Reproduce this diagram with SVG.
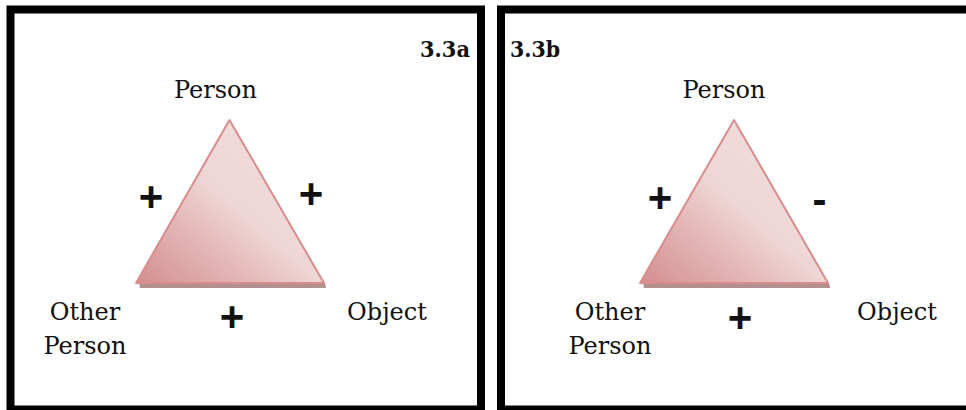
<svg xmlns="http://www.w3.org/2000/svg" width="966" height="410" viewBox="0 0 966 410">
<defs>
<linearGradient id="tri" x1="0" y1="1" x2="1" y2="0">
<stop offset="0" stop-color="#d48e8e"/>
<stop offset="0.3" stop-color="#e4b7b7"/>
<stop offset="0.5" stop-color="#efd6d6"/>
<stop offset="0.75" stop-color="#f0dada"/>
<stop offset="1" stop-color="#eacaca"/>
</linearGradient>
<style>
.frame{fill:none;stroke:#000;stroke-width:8}
.tri{fill:url(#tri);stroke:#d88c8c;stroke-width:2;stroke-linejoin:round}
.shadow{fill:#b39090}
.lbl{font-family:"DejaVu Serif","Liberation Serif",serif;font-size:24px;fill:#111;text-anchor:middle}
.tag{font-family:"DejaVu Serif","Liberation Serif",serif;font-size:23px;font-weight:bold;fill:#111}
.sign{font-family:"Liberation Sans",Arial,sans-serif;font-size:42px;font-weight:bold;fill:#111;text-anchor:middle}
</style>
</defs>
<rect width="966" height="410" fill="#fff"/>
<g id="panel-a">
<rect class="frame" x="10.5" y="9.5" width="470.5" height="400"/>
<text class="tag" x="420" y="57" textLength="50" lengthAdjust="spacingAndGlyphs">3.3a</text>
<g id="triangle-a">
<polygon class="shadow" points="139,283 325,283 326,288 140,288"/>
<polygon class="tri" points="229.5,120 136,283 324,283"/>
</g>
<text id="person-a" class="lbl" x="215.5" y="98">Person</text>
<text id="other-a" class="lbl" x="85" y="320">Other<tspan x="85" y="354">Person</tspan></text>
<text id="object-a" class="lbl" x="387" y="320">Object</text>
<text class="sign" x="151" y="211">+</text>
<text class="sign" x="311" y="208">+</text>
<text class="sign" x="232" y="331">+</text>
</g>
<g id="panel-b">
<rect class="frame" x="501" y="9.5" width="475" height="400"/>
<text class="tag" x="510" y="57" textLength="50" lengthAdjust="spacingAndGlyphs">3.3b</text>
<g id="triangle-b">
<polygon class="shadow" points="643,283 829,283 830,288 644,288"/>
<polygon class="tri" points="734,120 640,283 828,283"/>
</g>
<text id="person-b" class="lbl" x="724" y="98">Person</text>
<text id="other-b" class="lbl" x="610" y="320">Other<tspan x="610" y="354">Person</tspan></text>
<text id="object-b" class="lbl" x="897" y="320">Object</text>
<text class="sign" x="660" y="212">+</text>
<text class="sign" x="819.5" y="214">-</text>
<text class="sign" x="740" y="332">+</text>
</g>
<g id="connectors"/>
</svg>
